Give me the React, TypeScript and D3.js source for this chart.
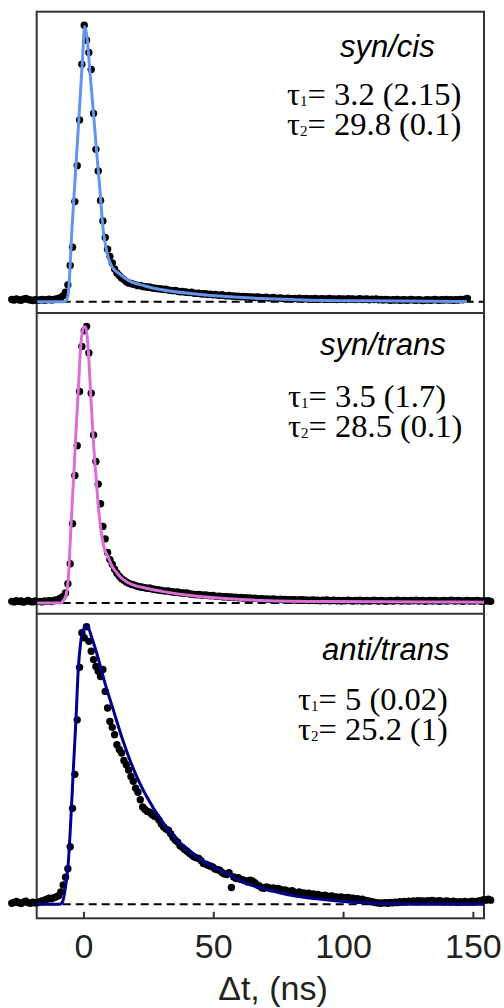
import React from 'react';
import * as d3 from 'd3';

// sampling grid of the measured traces (ns)
const T_START = -27.8;
const T_STEP = 0.9;

// measured (normalised) signal, syn/cis
const synCis = [
  0.008, 0.006, 0.010, 0.007, 0.005, 0.009, 0.012, 0.008, 0.006, 0.004,
  0.007, 0.005, 0.006, 0.008, 0.005, 0.007, 0.009, 0.006, 0.008, 0.010,
  0.012, 0.015, 0.022, 0.034, 0.061, 0.131, 0.197, 0.362, 0.492, 0.657,
  0.859, 1.000, 0.946, 0.901, 0.840, 0.681, 0.551, 0.473, 0.366, 0.292,
  0.232, 0.190, 0.164, 0.140, 0.118, 0.104, 0.095, 0.086, 0.080, 0.072,
  0.068, 0.066, 0.063, 0.061, 0.058, 0.059, 0.055, 0.054, 0.052, 0.053,
  0.050, 0.049, 0.048, 0.047, 0.046, 0.044, 0.045, 0.042, 0.041, 0.040,
  0.041, 0.038, 0.036, 0.037, 0.035, 0.034, 0.033, 0.034, 0.031, 0.030,
  0.031, 0.029, 0.028, 0.029, 0.026, 0.027, 0.025, 0.026, 0.024, 0.023,
  0.025, 0.022, 0.021, 0.023, 0.020, 0.021, 0.019, 0.020, 0.018, 0.019,
  0.017, 0.018, 0.016, 0.017, 0.015, 0.017, 0.016, 0.014, 0.015, 0.016,
  0.013, 0.014, 0.015, 0.012, 0.013, 0.014, 0.012, 0.011, 0.013, 0.012,
  0.010, 0.012, 0.011, 0.013, 0.010, 0.011, 0.012, 0.009, 0.011, 0.010,
  0.012, 0.009, 0.010, 0.011, 0.009, 0.010, 0.012, 0.009, 0.010, 0.008,
  0.011, 0.009, 0.010, 0.008, 0.011, 0.009, 0.010, 0.008, 0.009, 0.011,
  0.008, 0.009, 0.010, 0.007, 0.009, 0.008, 0.010, 0.007, 0.008, 0.006,
  0.008, 0.007, 0.005, 0.007, 0.006, 0.008, 0.005, 0.006, 0.007, 0.005,
  0.006, 0.008, 0.006, 0.005, 0.007, 0.006, 0.004, 0.006, 0.007, 0.005,
  0.006, 0.008, 0.006, 0.005, 0.007, 0.006, 0.008, 0.006, 0.007, 0.005,
  0.007, 0.006, 0.008, 0.007, 0.009, 0.012,
];

// measured (normalised) signal, syn/trans
const synTrans = [
  0.006, 0.004, 0.008, 0.005, 0.007, 0.003, 0.006, 0.009, 0.005, 0.004,
  0.007, 0.005, 0.006, 0.004, 0.007, 0.006, 0.008, 0.005, 0.009, 0.011,
  0.014, 0.018, 0.024, 0.036, 0.070, 0.142, 0.287, 0.461, 0.569, 0.765,
  0.928, 0.985, 1.000, 0.904, 0.759, 0.608, 0.512, 0.430, 0.359, 0.277,
  0.232, 0.183, 0.157, 0.140, 0.122, 0.108, 0.097, 0.088, 0.082, 0.076,
  0.071, 0.068, 0.066, 0.063, 0.060, 0.058, 0.057, 0.055, 0.053, 0.054,
  0.051, 0.050, 0.048, 0.047, 0.045, 0.044, 0.043, 0.044, 0.041, 0.040,
  0.039, 0.040, 0.037, 0.036, 0.035, 0.036, 0.033, 0.032, 0.031, 0.030,
  0.031, 0.029, 0.028, 0.029, 0.027, 0.026, 0.027, 0.025, 0.024, 0.025,
  0.023, 0.022, 0.023, 0.021, 0.022, 0.020, 0.021, 0.019, 0.020, 0.018,
  0.019, 0.017, 0.018, 0.016, 0.017, 0.016, 0.015, 0.016, 0.014, 0.015,
  0.014, 0.013, 0.015, 0.013, 0.012, 0.014, 0.012, 0.013, 0.011, 0.012,
  0.011, 0.012, 0.010, 0.011, 0.012, 0.010, 0.011, 0.009, 0.010, 0.011,
  0.009, 0.010, 0.008, 0.010, 0.009, 0.011, 0.008, 0.009, 0.010, 0.008,
  0.009, 0.007, 0.009, 0.008, 0.010, 0.008, 0.007, 0.009, 0.008, 0.010,
  0.007, 0.008, 0.009, 0.007, 0.008, 0.010, 0.008, 0.007, 0.009, 0.008,
  0.006, 0.008, 0.009, 0.007, 0.008, 0.010, 0.008, 0.007, 0.009, 0.008,
  0.007, 0.009, 0.008, 0.010, 0.007, 0.008, 0.009, 0.006, 0.008, 0.009,
  0.007, 0.009, 0.008, 0.006, 0.008, 0.009, 0.007, 0.008, 0.010, 0.008,
  0.007, 0.009, 0.008, 0.006, 0.008, 0.009, 0.007, 0.008, 0.007, 0.009,
  0.008, 0.006, 0.008, 0.007, 0.008, 0.006,
];

// measured (normalised) signal, anti/trans
const antiTrans = [
  0.004, 0.007, 0.010, 0.006, 0.003, 0.008, 0.011, 0.006, 0.004, 0.008,
  0.005, 0.006, 0.009, 0.012, 0.015, 0.018, 0.022, 0.020, 0.024, 0.027,
  0.031, 0.045, 0.070, 0.098, 0.129, 0.208, 0.347, 0.470, 0.667, 0.857,
  0.982, 0.964, 1.004, 0.951, 0.915, 0.885, 0.860, 0.843, 0.824, 0.849,
  0.770, 0.710, 0.661, 0.640, 0.613, 0.577, 0.560, 0.547, 0.520, 0.505,
  0.486, 0.462, 0.445, 0.420, 0.405, 0.378, 0.352, 0.343, 0.336, 0.333,
  0.325, 0.318, 0.316, 0.305, 0.290, 0.280, 0.272, 0.268, 0.255, 0.242,
  0.232, 0.225, 0.212, 0.206, 0.198, 0.192, 0.185, 0.178, 0.172, 0.168,
  0.166, 0.158, 0.148, 0.145, 0.141, 0.138, 0.135, 0.128, 0.125, 0.123,
  0.115, 0.110, 0.108, 0.114, 0.061, 0.099, 0.093, 0.096, 0.090, 0.088,
  0.085, 0.081, 0.087, 0.084, 0.078, 0.070, 0.066, 0.060, 0.058, 0.063,
  0.060, 0.056, 0.059, 0.055, 0.057, 0.054, 0.050, 0.052, 0.048, 0.046,
  0.049, 0.044, 0.042, 0.045, 0.040, 0.041, 0.038, 0.040, 0.036, 0.037,
  0.034, 0.036, 0.032, 0.030, 0.033, 0.029, 0.028, 0.030, 0.026, 0.027,
  0.025, 0.027, 0.024, 0.023, 0.025, 0.021, 0.022, 0.019, 0.020, 0.017,
  0.018, 0.015, 0.013, 0.011, 0.009, 0.008, 0.006, 0.005, 0.004, 0.005,
  0.006, 0.004, 0.007, 0.005, 0.008, 0.006, 0.009, 0.007, 0.010, 0.008,
  0.011, 0.009, 0.012, 0.010, 0.013, 0.011, 0.012, 0.010, 0.013, 0.011,
  0.014, 0.012, 0.010, 0.013, 0.011, 0.009, 0.012, 0.010, 0.008, 0.011,
  0.009, 0.007, 0.009, 0.008, 0.010, 0.007, 0.009, 0.011, 0.008, 0.010,
  0.012, 0.014, 0.017, 0.015, 0.018, 0.015,
];

// fitted curves (time, value)
const fitSynCisT = [-18, -7.6, -6.9, -6.2, -5.8, -4.7, -3.5, -2.6, -1.5, -0.6, 0.3, 1.3, 2.3, 3.6, 4.9, 6.2, 7.4, 8.4, 9.4, 10.7, 13.2, 17.1, 23.5, 30, 43, 56, 68.5, 81, 107, 147.5];
const fitSynCisY = [0, 0, 0.004, 0.02, 0.054, 0.25, 0.43, 0.565, 0.73, 0.87, 0.995, 0.946, 0.831, 0.689, 0.541, 0.40, 0.259, 0.20, 0.158, 0.128, 0.104, 0.077, 0.057, 0.043, 0.028, 0.018, 0.0115, 0.0075, 0.003, 0.001];

const fitSynTransT = [-18, -9.2, -7.3, -6.05, -5.13, -4.1, -3.08, -2.04, -1.16, 0, 0.77, 1.66, 2.58, 3.6, 4.63, 5.67, 6.82, 8.1, 9.4, 10.7, 12, 14.5, 17.1, 23.5, 30, 42.8, 55.6, 68.5, 94.2, 132.7, 154.1];
const fitSynTransY = [0, 0, 0.018, 0.084, 0.253, 0.434, 0.615, 0.795, 0.94, 1.0, 0.994, 0.916, 0.759, 0.590, 0.458, 0.337, 0.245, 0.19, 0.165, 0.135, 0.117, 0.09, 0.073, 0.054, 0.042, 0.025, 0.015, 0.009, 0.005, 0.004, 0.003];

const fitAntiTransT = [-18, -9.3, -8.2, -7.3, -6.05, -5.13, -4.1, -3.08, -2.2, -1.27, -0.27, 1.3, 3.0, 4.9, 8.1, 11.3, 14.5, 17.7, 20.9, 24.2, 30.6, 37, 43.4, 49.8, 56.2, 62.7, 69.1, 75.6, 82, 94.8, 107.6, 120.5, 133.4, 154.1];
const fitAntiTransY = [0, 0, 0.01, 0.051, 0.148, 0.292, 0.486, 0.667, 0.849, 0.946, 0.994, 1.006, 0.965, 0.909, 0.80, 0.703, 0.607, 0.522, 0.450, 0.389, 0.293, 0.220, 0.172, 0.135, 0.105, 0.075, 0.057, 0.041, 0.029, 0.015, 0.006, 0.002, 0, 0];

const panelNames = ['syn/cis', 'syn/trans', 'anti/trans'];
const tau1Labels = ['3.2 (2.15)', '3.5 (1.7)', '5 (0.02)'];
const tau2Labels = ['29.8 (0.1)', '28.5 (0.1)', '25.2 (1)'];
const xTicks = [0, 50, 100, 150];
const xLabel = 'Δt, (ns)';

const SANS = '"Liberation Sans", Arial, Helvetica, sans-serif';
const SERIF = '"Liberation Serif", "Times New Roman", Times, serif';

export default function App() {
  const W = 504;
  const H = 1008;
  const left = 36.7;
  const right = 484;
  const frameTop = 11.7;
  const frameBottom = 918.3;
  const unit = 276.5;

  const x = d3.scaleLinear().domain([-18.2, 154.1]).range([left, right]);

  const panels = [
    { data: synCis, fitT: fitSynCisT, fitY: fitSynCisY, color: '#6495ED', base: 301.7,
      titleX: 340, titleY: 57, tauX: 287, tau1Y: 105, tau2Y: 135 },
    { data: synTrans, fitT: fitSynTransT, fitY: fitSynTransY, color: '#DA70D6', base: 603,
      titleX: 320, titleY: 355, tauX: 288, tau1Y: 407, tau2Y: 437 },
    { data: antiTrans, fitT: fitAntiTransT, fitY: fitAntiTransY, color: '#00008B', base: 904.3,
      titleX: 322, titleY: 660, tauX: 298, tau1Y: 710, tau2Y: 740 },
  ];
  const separators = [313, 613.7];

  return (
    <div style={{ position: 'absolute', left: 0, top: 0 }}>
      <svg width={W} height={H} viewBox={`0 0 ${W} ${H}`} style={{ display: 'block', background: '#fff' }}>
        <rect x={0} y={0} width={W} height={H} fill="#fff" />
        {/* frame */}
        <rect x={left} y={frameTop} width={right - left} height={frameBottom - frameTop}
          fill="none" stroke="#333" strokeWidth={2} />
        {separators.map((s, i) => (
          <line key={i} x1={left} x2={right} y1={s} y2={s} stroke="#333" strokeWidth={2} />
        ))}
        {/* ticks */}
        {xTicks.map((t) => (
          <g key={t}>
            <line x1={x(t)} x2={x(t)} y1={frameBottom} y2={frameBottom - 6.5} stroke="#333" strokeWidth={2} />
            <text x={x(t)} y={958} textAnchor="middle" fontFamily={SANS} fontSize={34} fill="#222">{t}</text>
          </g>
        ))}
        <text x={273} y={1000} textAnchor="middle" fontFamily={SANS} fontSize={34} fill="#222">{xLabel}</text>

        {panels.map((p, pi) => {
          const y = d3.scaleLinear().domain([0, 1]).range([p.base, p.base - unit]);
          const fitPts: [number, number][] = p.fitT.map((t, i) => [t, p.fitY[i]]);
          const line = d3.line<[number, number]>()
            .x((d) => x(d[0]))
            .y((d) => y(d[1]))
            .curve(d3.curveMonotoneX);
          return (
            <g key={pi}>
              <line x1={left} x2={right} y1={y(0)} y2={y(0)} stroke="#000" strokeWidth={2} strokeDasharray="8,5" />
              {p.data.map((v, i) => (
                <circle key={i} cx={x(T_START + i * T_STEP)} cy={y(v)} r={3.7} fill="#000" />
              ))}
              <path d={line(fitPts) || ''} fill="none" stroke={p.color} strokeWidth={3} strokeLinejoin="round" />
              <text x={p.titleX} y={p.titleY} fontFamily={SANS} fontStyle="italic" fontSize={31} fill="#000">{panelNames[pi]}</text>
              <text x={p.tauX} y={p.tau1Y} fontFamily={SERIF} fontSize={32.5} fill="#000">
                τ<tspan fontSize={15} dy={1}>1</tspan><tspan dy={-1}>= {tau1Labels[pi]}</tspan>
              </text>
              <text x={p.tauX} y={p.tau2Y} fontFamily={SERIF} fontSize={32.5} fill="#000">
                τ<tspan fontSize={15} dy={1}>2</tspan><tspan dy={-1}>= {tau2Labels[pi]}</tspan>
              </text>
            </g>
          );
        })}
      </svg>
    </div>
  );
}
